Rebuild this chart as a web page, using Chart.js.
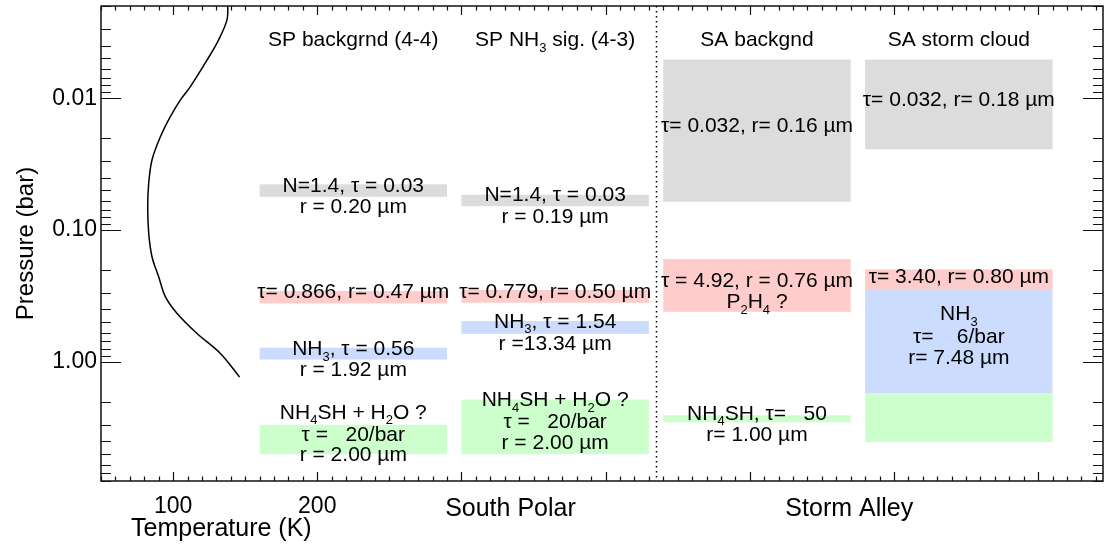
<!DOCTYPE html>
<html lang="en">
<head>
<meta charset="UTF-8">
<title>Cloud structure: South Polar and Storm Alley</title>
<script src="https://cdn.jsdelivr.net/npm/chart.js"></script>
<style>
  body { margin: 0; background: #fff; }
  canvas { display: block; }
</style>
</head>
<body>
<canvas id="cloudChart" width="1106" height="548"></canvas>
<script>
const FONT = '"Liberation Sans", Arial, Helvetica, sans-serif';

// temperature profile, K against bar
const profileT = [138.0, 137.4, 131.6, 123.6, 112.0, 105.1, 98.1, 91.2, 85.4, 83.1, 82.4, 83.1, 85.4, 90.0, 94.7, 102.8, 116.6, 132.8, 146.1];
const profileP = [0.002, 0.00255, 0.00361, 0.00513, 0.00817, 0.0103, 0.0138, 0.0196, 0.0293, 0.0441, 0.0665, 0.106, 0.160, 0.226, 0.321, 0.429, 0.609, 0.863, 1.30];

// model columns (placed along the temperature axis)
const columnNames = ['SP backgrnd (4-4)', 'SP NH_3 sig. (4-3)', 'SA backgnd', 'SA storm cloud'];
const columnLeft = [160, 300, 440, 580];
const columnRight = [290, 430, 570, 710];
const headerP = 0.00355;

const regionNames = ['South Polar', 'Storm Alley'];
const regionCenterT = [334, 569];
const regionSplitT = 435;

// cloud layers: column, top/bottom pressure (bar), kind
const layerColumn = [0, 0, 0, 0, 1, 1, 1, 1, 2, 2, 2, 3, 3, 3, 3];
const layerTop    = [0.045, 0.29, 0.78, 3.0, 0.054, 0.285, 0.49, 1.93, 0.0051, 0.166, 2.54, 0.0051, 0.199, 0.285, 1.74];
const layerBottom = [0.056, 0.36, 0.96, 5.0, 0.066, 0.356, 0.613, 5.0, 0.061, 0.417, 2.87, 0.0244, 0.285, 1.74, 4.05];
const layerKind   = ['haze', 'mid', 'nh3', 'deep', 'haze', 'mid', 'nh3', 'deep', 'haze', 'mid', 'deep', 'haze', 'mid', 'nh3', 'deep'];
const kindColor = { haze: '#dcdcdc', mid: '#ffcccc', nh3: '#ccdcff', deep: '#ccffcc' };

// layer annotations (underscore marks a subscript character)
const noteColumn = [0, 0, 0, 0, 0, 0, 0, 0,
                    1, 1, 1, 1, 1, 1, 1, 1,
                    2, 2, 2, 2, 2,
                    3, 3, 3, 3, 3];
const noteP = [0.0451, 0.0649, 0.2855, 0.7775, 1.122, 2.356, 3.498, 4.961,
               0.0526, 0.0769, 0.2855, 0.4826, 0.7147, 1.897, 2.771, 4.000,
               0.01575, 0.2367, 0.3441, 2.397, 3.498,
               0.01012, 0.2223, 0.4230, 0.6269, 0.9164];
const noteText = ['N=1.4, \u03c4 = 0.03', 'r = 0.20 \u00b5m', '\u03c4= 0.866, r= 0.47 \u00b5m', 'NH_3, \u03c4 = 0.56', 'r = 1.92 \u00b5m',
                  'NH_4SH + H_2O ?', '\u03c4 =   20/bar', 'r = 2.00 \u00b5m',
                  'N=1.4, \u03c4 = 0.03', 'r = 0.19 \u00b5m', '\u03c4= 0.779, r= 0.50 \u00b5m', 'NH_3, \u03c4 = 1.54', 'r =13.34 \u00b5m',
                  'NH_4SH + H_2O ?', '\u03c4 =   20/bar', 'r = 2.00 \u00b5m',
                  '\u03c4= 0.032, r= 0.16 \u00b5m', '\u03c4 = 4.92, r = 0.76 \u00b5m', 'P_2H_4 ?', 'NH_4SH, \u03c4=   50', 'r= 1.00 \u00b5m',
                  '\u03c4= 0.032, r= 0.18 \u00b5m', '\u03c4= 3.40, r= 0.80 \u00b5m', 'NH_3', '\u03c4=    6/bar', 'r= 7.48 \u00b5m'];

// axes
const xMin = 50, xMax = 745;
const yMin = 0.002, yMax = 8;
const xTickValues = [100, 200];
const yTickValues = [0.01, 0.1, 1];
const xTitle = 'Temperature (K)';
const xTitleT = 133.5;

function drawRich(ctx, str, cx, cy, size) {
  const runs = [];
  let buf = '';
  for (let i = 0; i < str.length; i++) {
    if (str[i] === '_' && i + 1 < str.length) {
      if (buf) runs.push({ t: buf, sub: false });
      buf = '';
      runs.push({ t: str[i + 1], sub: true });
      i++;
    } else {
      buf += str[i];
    }
  }
  if (buf) runs.push({ t: buf, sub: false });
  const subSize = Math.round(size * 0.64);
  let w = 0;
  runs.forEach(r => {
    ctx.font = (r.sub ? subSize : size) + 'px ' + FONT;
    r.w = ctx.measureText(r.t).width;
    w += r.w;
  });
  let x = cx - w / 2;
  const base = cy + size * 0.36;
  ctx.textAlign = 'left';
  ctx.textBaseline = 'alphabetic';
  runs.forEach(r => {
    ctx.font = (r.sub ? subSize : size) + 'px ' + FONT;
    ctx.fillText(r.t, x, r.sub ? base + size * 0.27 : base);
    x += r.w;
  });
}

const cloudPlugin = {
  id: 'cloudLayers',
  beforeDatasetsDraw(chart) {
    const { ctx, chartArea: a } = chart;
    const xs = chart.scales.x, ys = chart.scales.y;
    ctx.save();
    for (let i = 0; i < layerColumn.length; i++) {
      const c = layerColumn[i];
      const x0 = xs.getPixelForValue(columnLeft[c]);
      const x1 = xs.getPixelForValue(columnRight[c]);
      const y0 = ys.getPixelForValue(layerTop[i]);
      const y1 = ys.getPixelForValue(layerBottom[i]);
      ctx.fillStyle = kindColor[layerKind[i]];
      ctx.fillRect(x0, y0, x1 - x0, y1 - y0);
    }
    // divider between the two regions
    const xd = Math.round(xs.getPixelForValue(regionSplitT)) + 0.5;
    ctx.strokeStyle = '#000';
    ctx.lineWidth = 1.5;
    ctx.setLineDash([1.5, 3.5]);
    ctx.beginPath();
    ctx.moveTo(xd, a.top);
    ctx.lineTo(xd, a.bottom);
    ctx.stroke();
    ctx.setLineDash([]);
    ctx.restore();
  },
  afterDatasetsDraw(chart) {
    const { ctx, chartArea: a } = chart;
    const xs = chart.scales.x, ys = chart.scales.y;
    ctx.save();
    ctx.fillStyle = '#000';
    for (let c = 0; c < columnNames.length; c++) {
      const cx = xs.getPixelForValue((columnLeft[c] + columnRight[c]) / 2);
      drawRich(ctx, columnNames[c], cx, ys.getPixelForValue(headerP), 21);
    }
    for (let i = 0; i < noteText.length; i++) {
      const c = noteColumn[i];
      const cx = xs.getPixelForValue((columnLeft[c] + columnRight[c]) / 2);
      drawRich(ctx, noteText[i], cx, ys.getPixelForValue(noteP[i]), 21);
    }

    // frame and inward ticks
    ctx.strokeStyle = '#111';
    ctx.lineWidth = 1.5;
    ctx.strokeRect(a.left, a.top, a.right - a.left, a.bottom - a.top);
    ctx.lineWidth = 1.2;
    ctx.beginPath();
    for (let t = 50; t <= xMax; t += 10) {
      const px = Math.round(xs.getPixelForValue(t)) + 0.5;
      const len = t % 100 === 0 ? 9 : 4.5;
      ctx.moveTo(px, a.bottom); ctx.lineTo(px, a.bottom - len);
      ctx.moveTo(px, a.top); ctx.lineTo(px, a.top + len);
    }
    for (let d = 0.001; d < 10; d *= 10) {
      for (let k = 1; k <= 9; k++) {
        const v = k * d;
        if (v < yMin * 0.999 || v > yMax * 1.001) continue;
        const py = Math.round(ys.getPixelForValue(v)) + 0.5;
        const len = k === 1 ? 20 : 10;
        ctx.moveTo(a.left, py); ctx.lineTo(a.left + len, py);
        ctx.moveTo(a.right, py); ctx.lineTo(a.right - len, py);
      }
    }
    ctx.stroke();

    // bottom labels
    ctx.font = '25px ' + FONT;
    ctx.textAlign = 'center';
    ctx.textBaseline = 'alphabetic';
    for (let r = 0; r < regionNames.length; r++) {
      ctx.fillText(regionNames[r], xs.getPixelForValue(regionCenterT[r]), a.bottom + 35);
    }
    ctx.fillText(xTitle, xs.getPixelForValue(xTitleT), a.bottom + 55);
    ctx.restore();
  }
};

new Chart(document.getElementById('cloudChart'), {
  type: 'scatter',
  data: {
    datasets: [{
      data: profileT.map((t, i) => ({ x: t, y: profileP[i] })),
      showLine: true,
      borderColor: '#000',
      borderWidth: 1.5,
      pointRadius: 0,
      tension: 0.35,
      fill: false
    }]
  },
  options: {
    responsive: false,
    animation: false,
    layout: { padding: { top: 6, right: 3, left: 0, bottom: 0 } },
    plugins: { legend: { display: false }, tooltip: { enabled: false } },
    scales: {
      x: {
        type: 'linear',
        min: xMin,
        max: xMax,
        grid: { display: false, drawTicks: false },
        border: { display: false },
        afterBuildTicks: s => { s.ticks = xTickValues.map(v => ({ value: v })); },
        afterFit: s => { s.height = 67; s.paddingLeft = 0; s.paddingRight = 0; },
        ticks: { font: { family: FONT, size: 23 }, color: '#000', padding: 12, maxRotation: 0, autoSkip: false }
      },
      y: {
        type: 'logarithmic',
        reverse: true,
        min: yMin,
        max: yMax,
        grid: { display: false, drawTicks: false },
        border: { display: false },
        afterBuildTicks: s => { s.ticks = yTickValues.map(v => ({ value: v })); },
        afterFit: s => { s.width = 101; s.paddingTop = 0; s.paddingBottom = 0; },
        ticks: {
          font: { family: FONT, size: 23 },
          color: '#000',
          padding: 4,
          autoSkip: false,
          callback: v => Number(v).toFixed(2)
        },
        title: {
          display: true,
          text: 'Pressure (bar)',
          font: { family: FONT, size: 24 },
          color: '#000',
          padding: { top: 12, bottom: 0 }
        }
      }
    }
  },
  plugins: [cloudPlugin]
});
</script>
</body>
</html>
